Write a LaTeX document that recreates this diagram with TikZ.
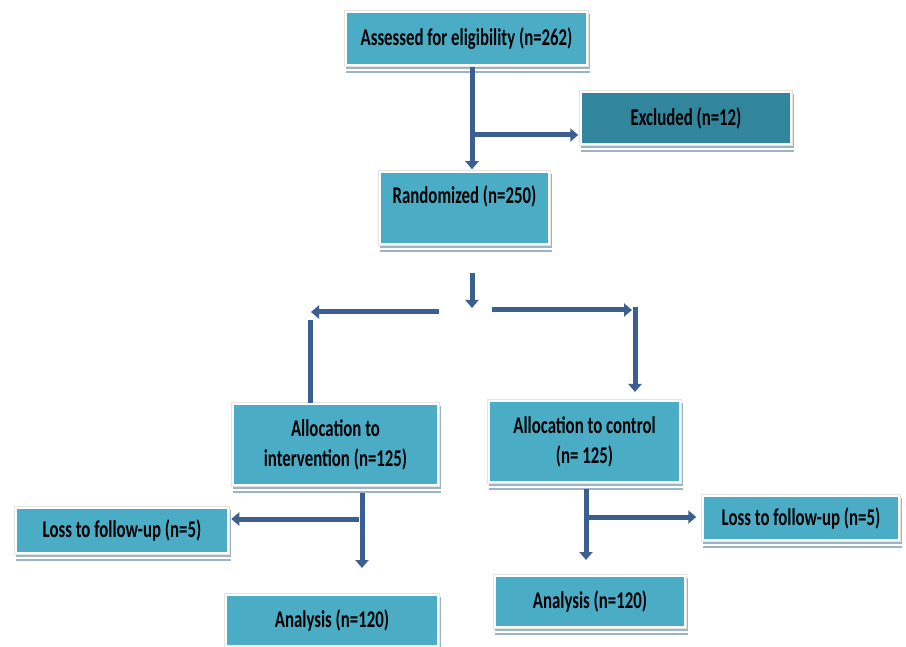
\documentclass[tikz,border=0pt]{standalone}
\usepackage{fontspec}
\setmainfont{Carlito}[FakeStretch=0.7]
\usetikzlibrary{arrows.meta,shadows}
\definecolor{boxfill}{HTML}{4BACC6}
\definecolor{exclfill}{HTML}{31859C}
\definecolor{arrowc}{HTML}{3B5F8E}
\definecolor{shadc}{HTML}{9DB4C2}
\definecolor{framec}{HTML}{E4E4E4}
\begin{document}
\begin{tikzpicture}[x=1pt,y=-1pt,
  txt/.style={font=\fontsize{24}{30}\selectfont\bfseries, align=center, text=black, inner sep=0pt},
  box/.style={rectangle, fill=boxfill, draw=white, line width=2.5pt, inner sep=0pt, txt,
    drop shadow={shadow xshift=1.5pt, shadow yshift=-6.5pt, fill=shadc, draw=shadc, line width=2.5pt, opacity=1},
    drop shadow={shadow xshift=1.5pt, shadow yshift=-4.5pt, fill=white, draw=white, line width=2.5pt, opacity=1},
    drop shadow={shadow xshift=1.5pt, shadow yshift=-3pt, fill=shadc, draw=shadc, line width=2.5pt, opacity=1},
    preaction={draw=framec, line width=4.5pt}},
  ln/.style={draw=arrowc, line width=5pt},
  arr/.style={ln, -{Triangle[width=13pt,length=8pt]}}
]
\fill[white] (0,0) rectangle (906,647);
\useasboundingbox (0,0) rectangle (906,647);

\node[box, minimum width=241, minimum height=53] (assess) at (466.5,38.5) {Assessed for eligibility (n=262)};
\node[box, fill=exclfill, minimum width=210, minimum height=52] (excl) at (686,118) {Excluded (n=12)};
\node[box, minimum width=169, minimum height=72] (rand) at (464.5,208) {};
\node[txt] (randt) at (464.5,196) {Randomized (n=250)};
\node[box, minimum width=205, minimum height=81] (interv) at (335.5,444.5) {Allocation to\\intervention (n=125)};
\node[box, minimum width=191, minimum height=81] (control) at (584.5,441.5) {Allocation to control\\(n= 125)};
\node[box, minimum width=212, minimum height=45] (lossL) at (122,530.5) {Loss to follow-up (n=5)};
\node[box, minimum width=212, minimum height=51] (anaL) at (332,620.5) {Analysis (n=120)};
\node[box, minimum width=196, minimum height=44] (lossR) at (801,518) {Loss to follow-up (n=5)};
\node[box, minimum width=190, minimum height=51] (anaR) at (590,601.5) {Analysis (n=120)};

\coordinate (a1) at (472,67);
\coordinate (b1) at (472,135);
\draw[arr, shorten >=1.5pt] (a1) -- (a1 |- rand.north);
\draw[arr, shorten >=1.5pt] (b1) -- (b1 -| excl.west);

\coordinate (c1) at (472,273);
\coordinate (c2) at (472,308);
\draw[arr] (c1) -- (c2);
\coordinate (c3) at (439,312);
\coordinate (c4) at (311,312);
\draw[arr] (c3) -- (c4);
\coordinate (c5) at (310,320);
\draw[ln] (c5) -- (c5 |- interv.north);
\coordinate (c6) at (492,310);
\coordinate (c7) at (632,310);
\draw[arr] (c6) -- (c7);
\coordinate (c8) at (635,307);
\coordinate (c9) at (635,392);
\draw[arr] (c8) -- (c9);

\coordinate (d1) at (362,493);
\coordinate (d2) at (362,568);
\draw[arr] (d1) -- (d2);
\coordinate (d3) at (359,519);
\draw[arr, shorten >=2pt] (d3) -- (d3 -| lossL.east);

\coordinate (e1) at (586,489);
\coordinate (e2) at (586,560);
\draw[arr] (e1) -- (e2);
\coordinate (e3) at (586,517);
\draw[arr, shorten >=5.5pt] (e3) -- (e3 -| lossR.west);
\end{tikzpicture}
\end{document}
